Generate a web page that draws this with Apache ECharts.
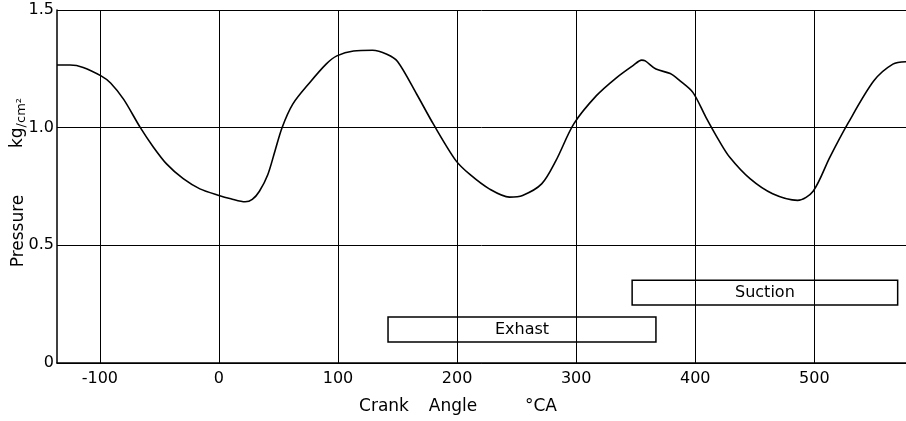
<!DOCTYPE html>
<html>
<head>
<meta charset="utf-8">
<script src="https://cdn.jsdelivr.net/npm/echarts@6/dist/echarts.min.js"></script>
<style>
  html, body { margin: 0; padding: 0; background: #fff; }
  #chart { width: 906px; height: 421px; }
</style>
</head>
<body>
<div id="chart"></div>
<script>
// crank angle (°CA) and pressure (kg/cm2)
var crankAngle = [-136, -125, -114, -99, -91, -80, -66, -55, -44, -30, -16, 0, 10, 22, 28, 34, 41, 47, 53, 62, 76, 90, 99, 113, 129, 141, 150, 166, 180, 199, 211, 227, 244, 255, 271, 283, 298, 317, 334, 348, 355, 358, 367, 379, 387, 398, 409, 420, 429, 446, 465, 486, 499, 513, 528, 550, 566, 577];
var pressure = [1.266, 1.266, 1.256, 1.22, 1.19, 1.12, 1.0, 0.917, 0.846, 0.783, 0.74, 0.712, 0.698, 0.685, 0.695, 0.73, 0.80, 0.90, 1.0, 1.10, 1.19, 1.27, 1.305, 1.326, 1.329, 1.312, 1.281, 1.143, 1.016, 0.86, 0.80, 0.74, 0.705, 0.712, 0.761, 0.86, 1.016, 1.136, 1.213, 1.265, 1.287, 1.284, 1.249, 1.23, 1.20, 1.15, 1.044, 0.945, 0.874, 0.783, 0.719, 0.691, 0.73, 0.874, 1.016, 1.199, 1.27, 1.28];

var xTicks = [-100, 0, 100, 200, 300, 400, 500];

// valve timing bars: [start, end, lower, upper]
var exhaustBar = [142, 367, 0.089, 0.195];
var suctionBar = [347, 570, 0.246, 0.352];

var font = 'DejaVu Sans';

var myChart = echarts.init(document.getElementById('chart'));

var points = crankAngle.map(function (a, i) { return [a, pressure[i]]; });

function bar(b, name) {
    return [
        { name: name, coord: [b[0], b[3]] },
        { coord: [b[1], b[2]] }
    ];
}

function label(txt, x, y, rot) {
    return {
        type: 'text', x: x, y: y, rotation: rot || 0,
        style: { text: txt, font: '17px ' + font, fill: '#000', align: 'center', verticalAlign: 'middle' }
    };
}

var option = {
    animation: false,
    backgroundColor: '#fff',
    grid: { left: 57, right: 0, top: 10, bottom: 58 },
    xAxis: {
        type: 'value',
        min: -136,
        max: 577,
        axisLine: { show: true, onZero: false, lineStyle: { color: '#000', width: 1.5 } },
        axisTick: { show: false },
        axisLabel: {
            customValues: xTicks,
            color: '#000',
            fontFamily: font,
            fontSize: 16,
            margin: 8
        },
        splitLine: { show: false }
    },
    yAxis: {
        type: 'value',
        min: 0,
        max: 1.5,
        interval: 0.5,
        axisLine: { show: true, onZero: false, lineStyle: { color: '#000', width: 1.5 } },
        axisTick: { show: false },
        axisLabel: {
            color: '#000',
            fontFamily: font,
            fontSize: 16,
            margin: 3,
            formatter: function (v) { return v === 0 ? '0' : v.toFixed(1); }
        },
        splitLine: { show: true, lineStyle: { color: '#000', width: 1 } }
    },
    graphic: [
        label('Pressure', 19, 231, Math.PI / 2),
        {
            type: 'text', x: 18, y: 123, rotation: Math.PI / 2,
            style: {
                text: '{a|kg}{b|/cm²}',
                align: 'center', verticalAlign: 'middle',
                rich: {
                    a: { fontFamily: font, fontSize: 17, fill: '#000' },
                    b: { fontFamily: font, fontSize: 13, fill: '#000', padding: [8, 0, 0, 0] }
                }
            }
        },
        label('Crank', 384, 407),
        label('Angle', 453, 407),
        label('°CA', 541, 407)
    ],
    series: [
        {
            // vertical grid lines
            type: 'line',
            data: [],
            z: 1,
            markLine: {
                silent: true,
                symbol: 'none',
                label: { show: false },
                lineStyle: { color: '#000', width: 1, type: 'solid' },
                data: xTicks.map(function (t) { return { xAxis: t }; })
            }
        },
        {
            type: 'line',
            data: [],
            z: 2,
            markArea: {
                silent: true,
                itemStyle: { color: '#fff', opacity: 1, borderColor: '#000', borderWidth: 1.5 },
                label: {
                    show: true,
                    position: 'inside',
                    color: '#000',
                    fontFamily: font,
                    fontSize: 16
                },
                data: [bar(exhaustBar, 'Exhast'), bar(suctionBar, 'Suction')]
            }
        },
        {
            type: 'line',
            data: points,
            z: 3,
            smooth: 0.3,
            showSymbol: false,
            lineStyle: { color: '#000', width: 1.6 }
        }
    ]
};

myChart.setOption(option);
</script>
</body>
</html>
